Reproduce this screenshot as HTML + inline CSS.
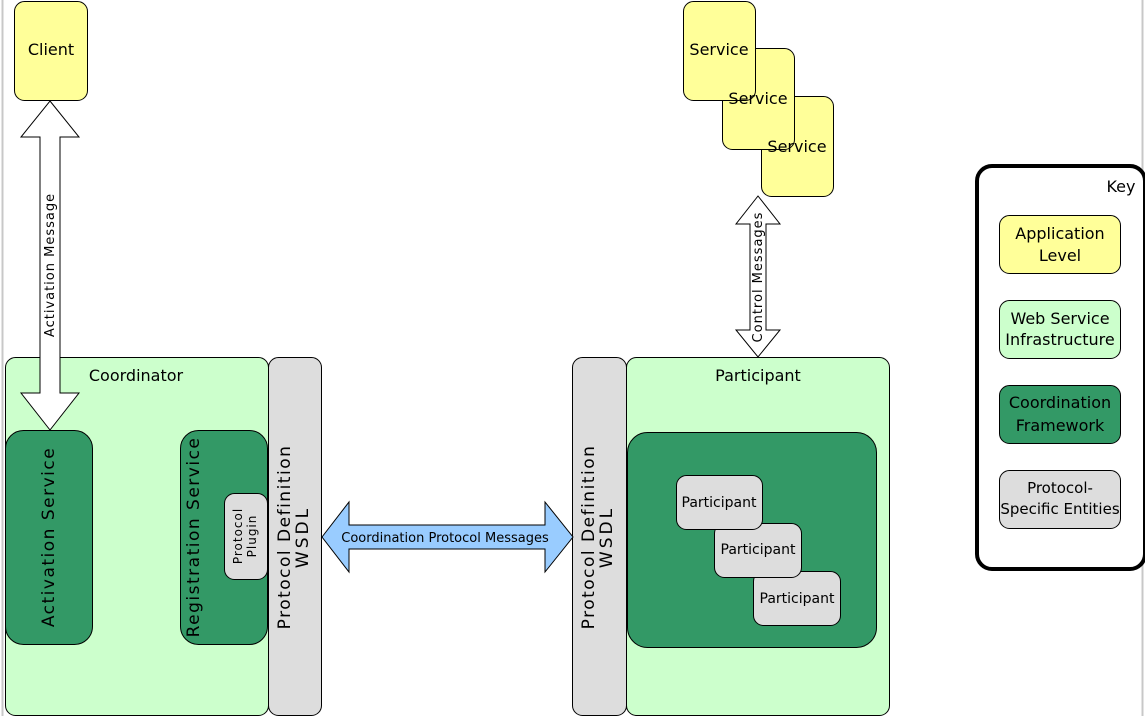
<!DOCTYPE html>
<html><head><style>body{margin:0;background:#fff}svg{display:block}text{font-family:"DejaVu Sans","Liberation Sans",sans-serif;fill:#000}</style></head>
<body>
<svg width="1145" height="716" viewBox="0 0 1145 716" xmlns="http://www.w3.org/2000/svg">
<line x1="2.5" y1="0" x2="2.5" y2="716" stroke="#c8c8c8" stroke-width="2"/>
<line x1="1142.5" y1="0" x2="1142.5" y2="716" stroke="#c8c8c8" stroke-width="2"/>
<g stroke="#000" stroke-width="1">
<!-- Client -->
<rect x="14.5" y="1.5" width="73" height="99" rx="10" fill="#ffff99"/>
<!-- Services -->
<rect x="761.5" y="96.5" width="72" height="100" rx="10" fill="#ffff99"/>
<rect x="722.5" y="48.5" width="72" height="101" rx="10" fill="#ffff99"/>
<rect x="683.5" y="1.5" width="72" height="99" rx="10" fill="#ffff99"/>
<!-- Coordinator -->
<rect x="5.5" y="357.5" width="263" height="358" rx="10" fill="#ccffcc"/>
<rect x="268.5" y="357.5" width="53" height="358" rx="10" fill="#dddddd"/>
<rect x="5.5" y="430.5" width="87" height="214" rx="18" fill="#339966"/>
<rect x="180.5" y="430.5" width="87" height="214" rx="18" fill="#339966"/>
<rect x="224.5" y="493.5" width="43" height="86" rx="10" fill="#dddddd"/>
<!-- Participant -->
<rect x="572.5" y="357.5" width="54" height="358" rx="10" fill="#dddddd"/>
<rect x="626.5" y="357.5" width="263" height="358" rx="10" fill="#ccffcc"/>
<rect x="627.5" y="432.5" width="249" height="215" rx="20" fill="#339966"/>
<rect x="753.5" y="571.5" width="87" height="54" rx="10" fill="#dddddd"/>
<rect x="714.5" y="523.5" width="87" height="54" rx="10" fill="#dddddd"/>
<rect x="676.5" y="475.5" width="86" height="54" rx="10" fill="#dddddd"/>
<!-- arrows -->
<polygon points="50,101 79,137 60,137 60,393 79,393 50,430 21,393 40,393 40,137 21,137" fill="#fff"/>
<polygon points="758,196 780,224 766,224 766,330 780,330 758,357 736,330 750,330 750,224 736,224" fill="#fff"/>
<polygon points="322,537 349,502 349,525 545,525 545,502 573,537 545,572 545,549 349,549 349,572" fill="#99ccff"/>
<!-- Key -->
<rect x="977" y="166" width="168" height="403" rx="15" fill="#fff" stroke-width="4"/>
<rect x="999.5" y="215.5" width="121" height="58" rx="10" fill="#ffff99"/>
<rect x="999.5" y="300.5" width="121" height="58" rx="10" fill="#ccffcc"/>
<rect x="999.5" y="385.5" width="121" height="58" rx="10" fill="#339966"/>
<rect x="999.5" y="470.5" width="121" height="58" rx="10" fill="#dddddd"/>
</g>
<g font-size="16" text-anchor="middle">
<text x="51" y="55">Client</text>
<text x="719" y="55">Service</text>
<text x="758" y="104">Service</text>
<text x="797" y="152">Service</text>
<text x="136" y="381">Coordinator</text>
<text x="758" y="381">Participant</text>
<text x="719" y="507" font-size="14">Participant</text>
<text x="758" y="554" font-size="14">Participant</text>
<text x="797" y="603" font-size="14">Participant</text>
<text x="445" y="542" font-size="13">Coordination Protocol Messages</text>
<text transform="translate(54,265) rotate(-90)" font-size="13" letter-spacing="1">Activation Message</text>
<text transform="translate(762,277) rotate(-90)" font-size="13" letter-spacing="1">Control Messages</text>
<text transform="translate(54,537) rotate(-90)" font-size="17" letter-spacing="1.5">Activation Service</text>
<text transform="translate(199,537) rotate(-90)" font-size="17" letter-spacing="1.5">Registration Service</text>
<text transform="translate(242,536) rotate(-90)" font-size="12" letter-spacing="1">Protocol</text>
<text transform="translate(256,536) rotate(-90)" font-size="12" letter-spacing="1">Plugin</text>
<text transform="translate(290,537) rotate(-90)" font-size="17" letter-spacing="1.5">Protocol Definition</text>
<text transform="translate(308,537) rotate(-90)" font-size="17" letter-spacing="3">WSDL</text>
<text transform="translate(594,537) rotate(-90)" font-size="17" letter-spacing="1.5">Protocol Definition</text>
<text transform="translate(612,537) rotate(-90)" font-size="17" letter-spacing="3">WSDL</text>
<text x="1121" y="192">Key</text>
<text x="1060" y="239">Application</text>
<text x="1060" y="261">Level</text>
<text x="1060" y="324">Web Service</text>
<text x="1060" y="345">Infrastructure</text>
<text x="1060" y="408">Coordination</text>
<text x="1060" y="431">Framework</text>
<text x="1060" y="493" font-size="15">Protocol-</text>
<text x="1060" y="514" font-size="15">Specific Entities</text>
</g>
</svg>
</body></html>
